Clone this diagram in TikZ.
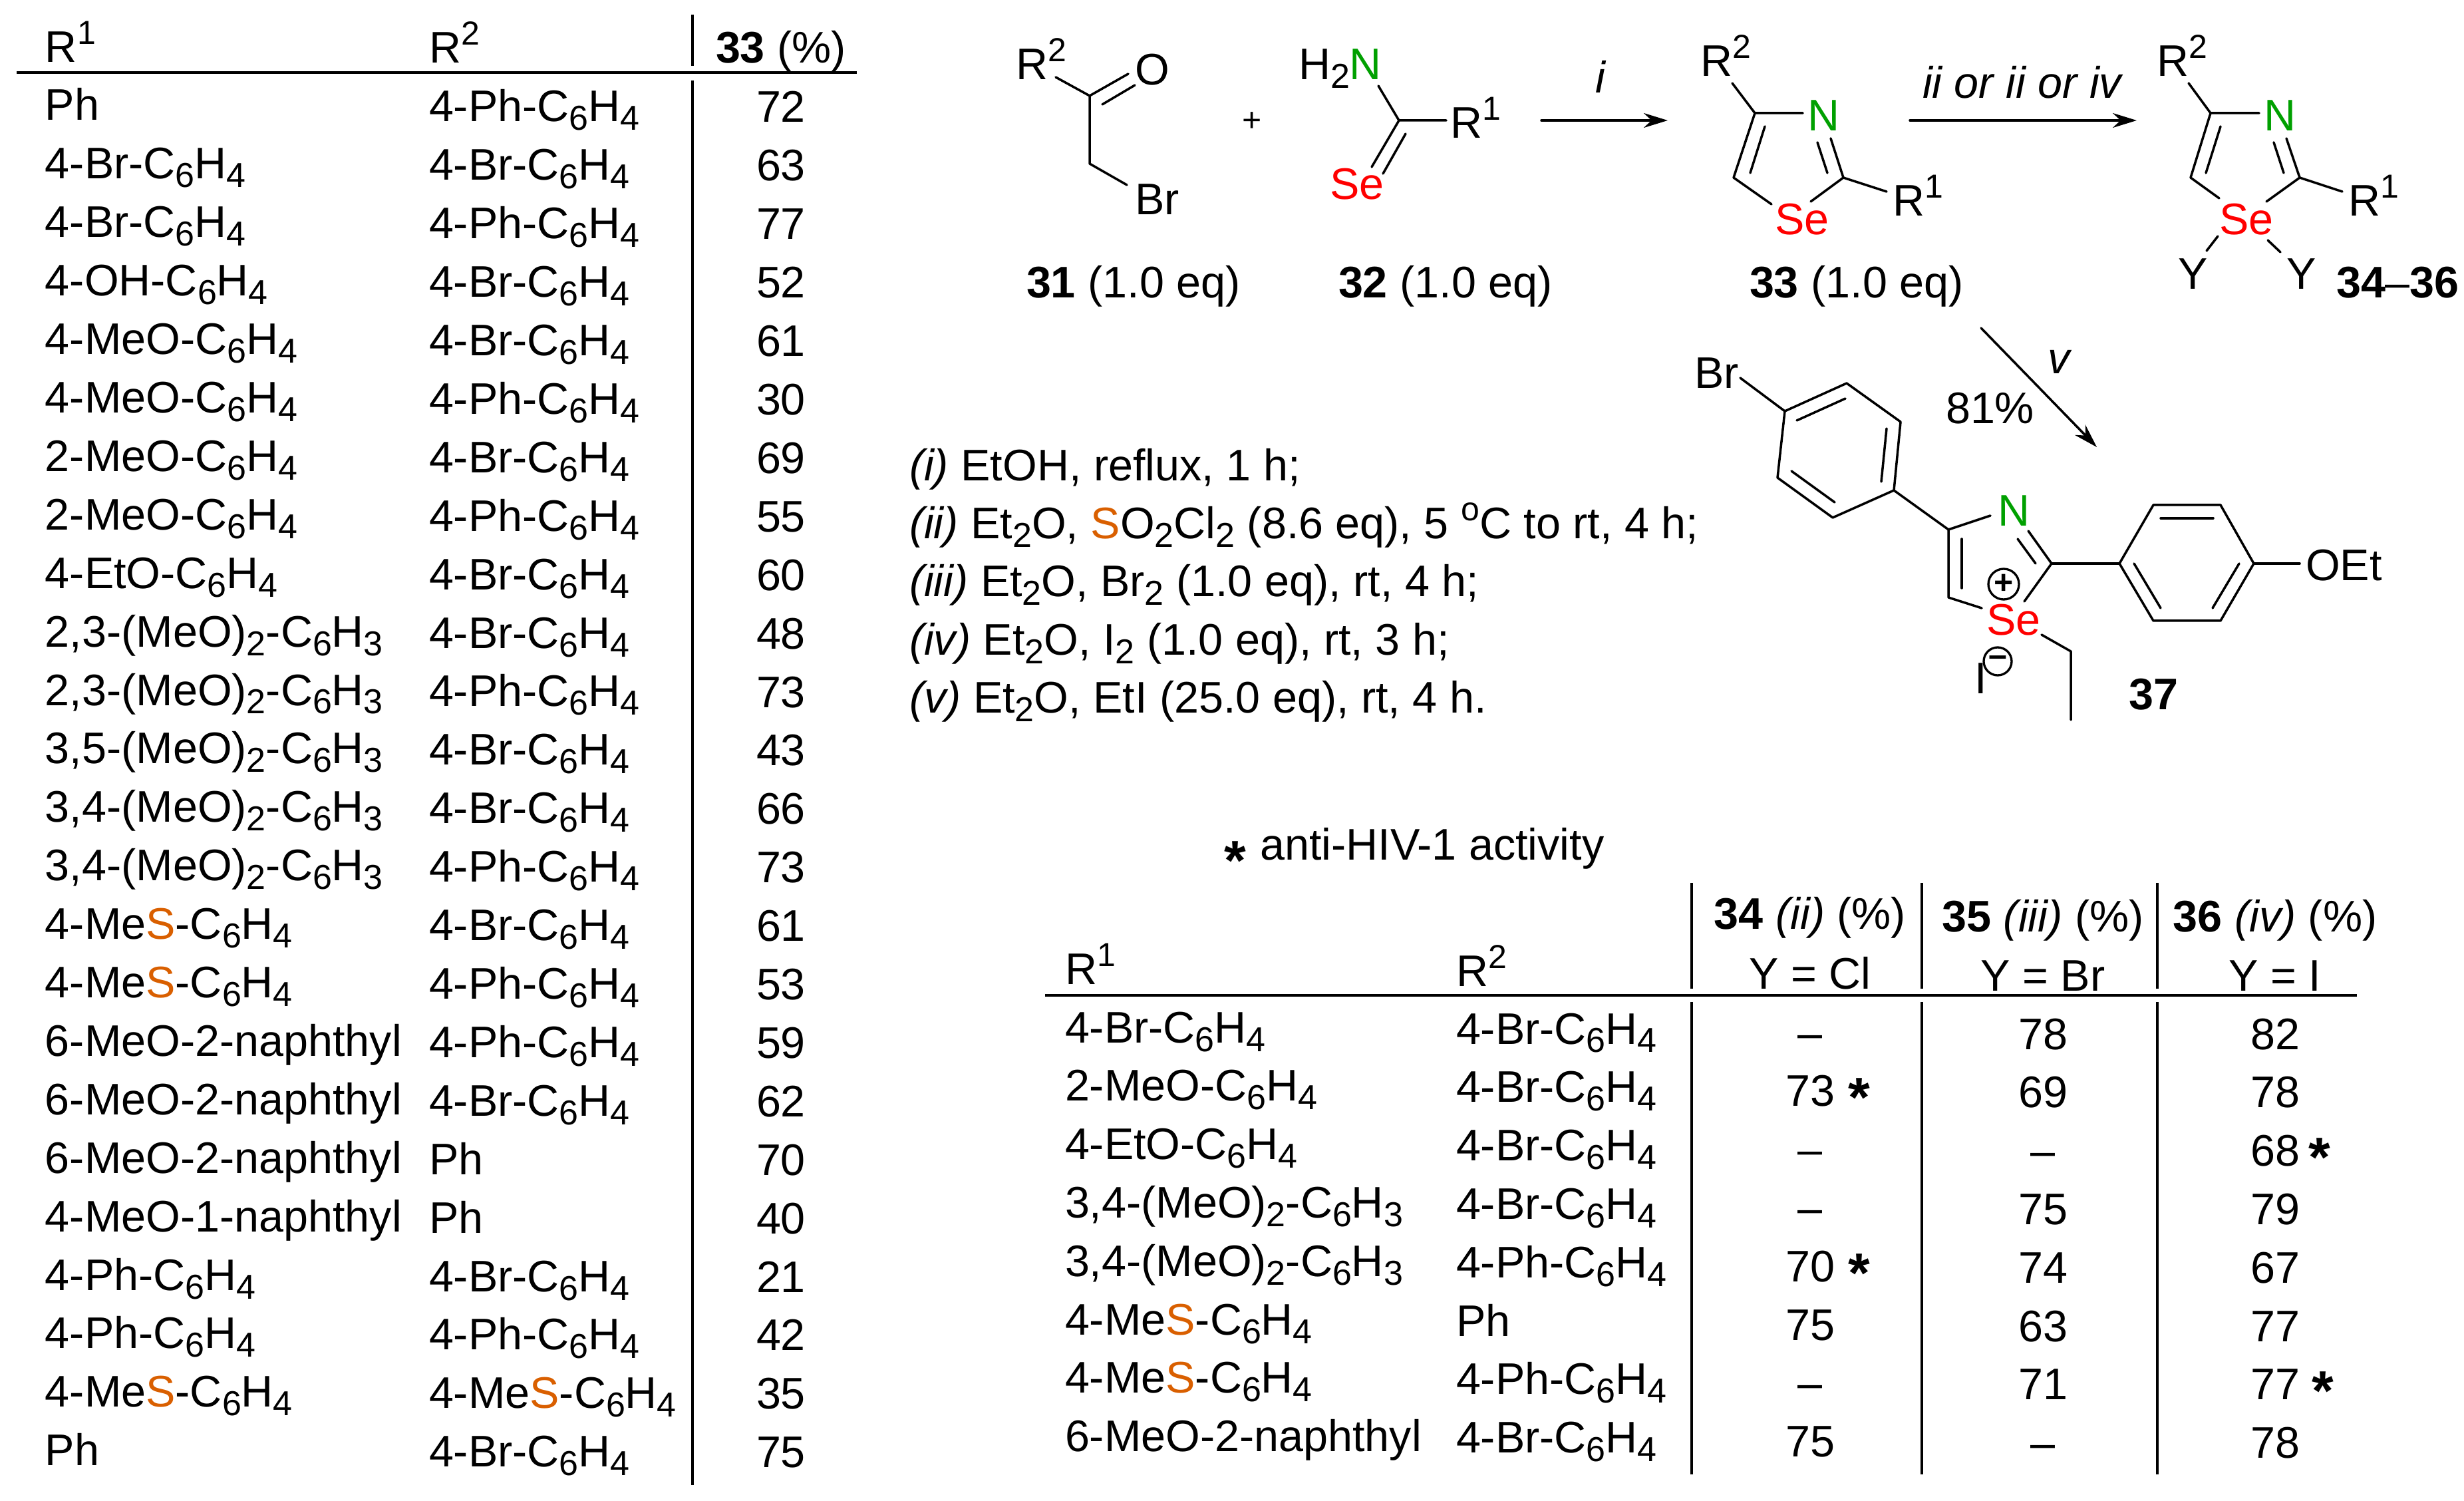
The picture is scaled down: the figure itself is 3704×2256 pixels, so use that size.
\documentclass[tikz,border=0pt]{standalone}
\usepackage{fontspec}
\usepackage{tikz}
\usetikzlibrary{arrows.meta}
\setmainfont{Liberation Sans}
\definecolor{seRed}{RGB}{255,0,0}
\definecolor{nGreen}{RGB}{0,160,0}
\definecolor{sOrange}{RGB}{217,95,0}
\newcommand{\dn}[1]{\raisebox{-1.3pt}{\fontsize{5.2}{5}\selectfont #1}}
\newcommand{\up}[1]{\raisebox{2.7pt}{\fontsize{5}{5}\selectfont #1}}
\newcommand{\csix}{C\dn{6}H\dn{4}}
\newcommand{\cthree}{C\dn{6}H\dn{3}}
\newcommand{\ess}{\textcolor{sOrange}{S}}
\newcommand{\hit}{\raisebox{-1.6pt}{\fontsize{8.4}{8}\selectfont\textbf{*}}}
\tikzset{
  txt/.style={anchor=base west, inner sep=0pt, font=\fontsize{6.65}{7}\selectfont},
  num/.style={txt, anchor=base},
  bond/.style={line width=0.35pt, line cap=round, line join=round},
  rule/.style={line width=0.33pt},
  seAtom/.style={txt, text=seRed},
  nAtom/.style={txt, text=nGreen},
  ion/.style={draw, circle, line width=0.33pt, inner sep=0pt, font=\fontsize{5}{5}\selectfont}
}
\begin{document}
\begin{tikzpicture}[x=0.1pt, y=-0.1pt, >={Stealth[length=3.6pt, width=2.2pt]}]
  \useasboundingbox (0,0) rectangle (3704,2256);

  % Left table
  \node [txt] (lhr1) at (66,94) {R\up{1}};
  \node [txt] (lhr2) at (643,95) {R\up{2}};
  \node [txt] (lhy) at (1074,95) {\textbf{33} (\%)};
  \coordinate (ll1) at (25,109);
  \coordinate (ll2) at (1288,109);
  \coordinate (lv1) at (1041,22);
  \coordinate (lv2) at (1041,99);
  \coordinate (lv3) at (1041,121);
  \coordinate (lv4) at (1041,2232);
  \draw [rule] (ll1) -- (ll2);
  \draw [rule] (lv1) -- (lv2);
  \draw [rule] (lv3) -- (lv4);
  \foreach \a/\b/\c [count=\i from 0] in {
      Ph/4-Ph-\csix/72,
      4-Br-\csix/4-Br-\csix/63,
      4-Br-\csix/4-Ph-\csix/77,
      4-OH-\csix/4-Br-\csix/52,
      4-MeO-\csix/4-Br-\csix/61,
      4-MeO-\csix/4-Ph-\csix/30,
      2-MeO-\csix/4-Br-\csix/69,
      2-MeO-\csix/4-Ph-\csix/55,
      4-EtO-\csix/4-Br-\csix/60,
      2{,}3-(MeO)\dn{2}-\cthree/4-Br-\csix/48,
      2{,}3-(MeO)\dn{2}-\cthree/4-Ph-\csix/73,
      3{,}5-(MeO)\dn{2}-\cthree/4-Br-\csix/43,
      3{,}4-(MeO)\dn{2}-\cthree/4-Br-\csix/66,
      3{,}4-(MeO)\dn{2}-\cthree/4-Ph-\csix/73,
      4-Me\ess-\csix/4-Br-\csix/61,
      4-Me\ess-\csix/4-Ph-\csix/53,
      6-MeO-2-naphthyl/4-Ph-\csix/59,
      6-MeO-2-naphthyl/4-Br-\csix/62,
      6-MeO-2-naphthyl/Ph/70,
      4-MeO-1-naphthyl/Ph/40,
      4-Ph-\csix/4-Br-\csix/21,
      4-Ph-\csix/4-Ph-\csix/42,
      4-Me\ess-\csix/4-Me\ess-\csix/35,
      Ph/4-Br-\csix/75} {
    \node [txt] (la\i) at (66,{181+87.9*\i}) {\a};
    \node [txt] (lb\i) at (643,{183+87.9*\i}) {\b};
    \node [num] (lc\i) at (1174,{184+87.9*\i}) {\c};
  }

  % Right table
  \node [txt] (rtitle) at (1838,1293) {\raisebox{-1.4pt}{\hit}\hspace{0.3pt} anti-HIV-1 activity};
  \node [txt] (rhr1) at (1599,1479) {R\up{1}};
  \node [txt] (rhr2) at (2187,1482) {R\up{2}};
  \node [num] (rh34) at (2721,1397) {\textbf{34} \textit{(ii)} (\%)};
  \node [num] (rh35) at (3071,1400) {\textbf{35} \textit{(iii)} (\%)};
  \node [num] (rh36) at (3420,1400) {\textbf{36} \textit{(iv)} (\%)};
  \node [num] (ry34) at (2721,1487) {Y = Cl};
  \node [num] (ry35) at (3071,1489) {Y = Br};
  \node [num] (ry36) at (3420,1489) {Y = I};
  \coordinate (rl1) at (1571,1496);
  \coordinate (rl2) at (3543,1496);
  \draw [rule] (rl1) -- (rl2);
  \foreach \n/\x in {a/2543, b/2889, c/3243} {
    \coordinate (rv\n1) at (\x,1327);
    \coordinate (rv\n2) at (\x,1486);
    \coordinate (rv\n3) at (\x,1506);
    \coordinate (rv\n4) at (\x,2216);
    \draw [rule] (rv\n1) -- (rv\n2);
    \draw [rule] (rv\n3) -- (rv\n4);
  }
  \foreach \a/\b/\c/\d/\e [count=\i from 0] in {
      4-Br-\csix/4-Br-\csix/--/78/82,
      2-MeO-\csix/4-Br-\csix/73\rlap{\hspace{2pt}\hit}/69/78,
      4-EtO-\csix/4-Br-\csix/--/--/68\rlap{\hspace{1.3pt}\hit},
      3{,}4-(MeO)\dn{2}-\cthree/4-Br-\csix/--/75/79,
      3{,}4-(MeO)\dn{2}-\cthree/4-Ph-\csix/70\rlap{\hspace{2pt}\hit}/74/67,
      4-Me\ess-\csix/Ph/75/63/77,
      4-Me\ess-\csix/4-Ph-\csix/--/71/77\rlap{\hspace{1.8pt}\hit},
      6-MeO-2-naphthyl/4-Br-\csix/75/--/78} {
    \node [txt] (ra\i) at (1599,{1567+87.8*\i}) {\a};
    \node [txt] (rb\i) at (2187,{1569+87.8*\i}) {\b};
    \node [num] (rc\i) at (2721,{1575+87.8*\i}) {\c};
    \node [num] (rd\i) at (3071,{1577+87.8*\i}) {\d};
    \node [num] (re\i) at (3420,{1577+87.8*\i}) {\e};
  }

  % Conditions
  \node [txt] (cond1) at (1365,723) {\textit{(i)} EtOH, reflux, 1 h;};
  \node [txt] (cond2) at (1365,810) {\textit{(ii)} Et\dn{2}O, \ess O\dn{2}Cl\dn{2} (8.6 eq), 5 \up{o}C to rt, 4 h;};
  \node [txt] (cond3) at (1365,897) {\textit{(iii)} Et\dn{2}O, Br\dn{2} (1.0 eq), rt, 4 h;};
  \node [txt] (cond4) at (1365,985) {\textit{(iv)} Et\dn{2}O, I\dn{2} (1.0 eq), rt, 3 h;};
  \node [txt] (cond5) at (1365,1072) {\textit{(v)} Et\dn{2}O, EtI (25.0 eq), rt, 4 h.};

  % 31
  \node [txt] (r31) at (1525,120) {R\up{2}};
  \node [txt] (o31) at (1704,128) {O};
  \node [txt] (br31) at (1704,323) {Br};
  \node [txt] (lab31) at (1541,448) {\textbf{31} (1.0 eq)};
  \node [txt, font=\fontsize{5}{5}\selectfont] (plus) at (1865,198) {+};
  \foreach \n/\x/\y in {a1/1638/144, a2/1587/116, a3/1696/111, a4/1657/157, a5/1706/128, a6/1638/246, a7/1694/278}
    \coordinate (\n) at (\x,\y);
  \draw [bond] (a2) -- (a1) -- (a3);
  \draw [bond] (a4) -- (a5);
  \draw [bond] (a1) -- (a6) -- (a7);

  % 32
  \node [txt] (hn32) at (1950,120) {H\dn{2}\textcolor{nGreen}{N}};
  \node [txt] (r32) at (2178,208) {R\up{1}};
  \node [seAtom] (se32) at (1997,300) {Se};
  \node [txt] (lab32) at (2010,448) {\textbf{32} (1.0 eq)};
  \foreach \n/\x/\y in {b1/2103/181, b2/2072/129, b3/2174/181, b4/2062/251, b5/2113/201, b6/2079/261}
    \coordinate (\n) at (\x,\y);
  \draw [bond] (b2) -- (b1) -- (b3);
  \draw [bond] (b1) -- (b4);
  \draw [bond] (b5) -- (b6);

  % 33
  \node [txt] (r33a) at (2554,115) {R\up{2}};
  \node [nAtom] (n33) at (2715,197) {N};
  \node [txt] (r33b) at (2843,325) {R\up{1}};
  \node [seAtom] (se33) at (2666,353) {Se};
  \node [txt] (lab33) at (2628,448) {\textbf{33} (1.0 eq)};
  \foreach \n/\x/\y in {c1/2638/170, c2/2604/125, c3/2710/170, c4/2752/208, c5/2771/267, c6/2732/214, c7/2747/260,
                        c8/2836/288, c9/2722/303, c10/2606/267, c11/2653/190, c12/2631/260, c13/2663/307}
    \coordinate (\n) at (\x,\y);
  \draw [bond] (c2) -- (c1) -- (c3);
  \draw [bond] (c4) -- (c5) -- (c9);
  \draw [bond] (c6) -- (c7);
  \draw [bond] (c5) -- (c8);
  \draw [bond] (c1) -- (c10) -- (c13);
  \draw [bond] (c11) -- (c12);

  % 34-36
  \node [txt] (r34a) at (3240,115) {R\up{2}};
  \node [nAtom] (n34) at (3401,197) {N};
  \node [txt] (r34b) at (3528,325) {R\up{1}};
  \node [seAtom] (se34) at (3334,353) {Se};
  \node [txt] (y34a) at (3272,435) {Y};
  \node [txt] (y34b) at (3435,435) {Y};
  \node [txt] (lab34) at (3510,448) {\textbf{34}--\textbf{36}};
  \foreach \n/\x/\y in {d1/3323/170, d2/3290/125, d3/3396/170, d4/3437/208, d5/3457/267, d6/3418/214, d7/3433/260,
                        d8/3521/288, d9/3407/303, d10/3293/267, d11/3338/190, d12/3316/260, d13/3336/298,
                        d14/3334/355, d15/3317/377, d16/3409/361, d17/3428/379}
    \coordinate (\n) at (\x,\y);
  \draw [bond] (d2) -- (d1) -- (d3);
  \draw [bond] (d4) -- (d5) -- (d9);
  \draw [bond] (d6) -- (d7);
  \draw [bond] (d5) -- (d8);
  \draw [bond] (d1) -- (d10) -- (d13);
  \draw [bond] (d11) -- (d12);
  \draw [bond] (d14) -- (d15);
  \draw [bond] (d16) -- (d17);

  % 37
  \node [txt] (br37) at (2545,584) {Br};
  \node [nAtom] (n37) at (3001,791) {N};
  \node [seAtom] (se37) at (2984,955) {Se};
  \node [txt] (oet37) at (3464,873) {OEt};
  \node [txt] (i37) at (2966,1043) {I};
  \node [txt] (lab37) at (3198,1066) {\textbf{37}};
  \node [ion, minimum size=4.6pt] (pos37) at (3012,878) {\textbf{+}};
  \node [ion, minimum size=4.2pt] (neg37) at (3003,994) {\textbf{--}};
  \foreach \n/\x/\y in {e1/2616/568, e2/2683/618, e3/2776/576, e4/2857/634, e5/2847/737, e6/2755/778, e7/2672/718,
                        e8/2701/632, e9/2774/599, e10/2836/644, e11/2828/724, e12/2693/708, e13/2758/755,
                        f1/2929/796, f2/2992/775, f3/3049/798, f4/3084/847, f5/3033/810, f6/3060/847,
                        f7/3043/904, f8/2929/898, f9/2949/810, f10/2949/884, f11/2979/914,
                        f12/3069/954, f13/3113/979, f14/3113/1082,
                        g1/3186/847, g2/3237/759, g3/3338/759, g4/3388/847, g5/3338/933, g6/3237/933,
                        g7/3248/779, g8/3327/779, g9/3366/847, g10/3326/914, g11/3208/847, g12/3248/914, g13/3457/847}
    \coordinate (\n) at (\x,\y);
  \draw [bond] (e1) -- (e2);
  \draw [bond] (e2) -- (e3) -- (e4) -- (e5) -- (e6) -- (e7) -- cycle;
  \draw [bond] (e8) -- (e9);
  \draw [bond] (e10) -- (e11);
  \draw [bond] (e12) -- (e13);
  \draw [bond] (e5) -- (f1) -- (f2);
  \draw [bond] (f3) -- (f4) -- (f7);
  \draw [bond] (f5) -- (f6);
  \draw [bond] (f1) -- (f8) -- (f11);
  \draw [bond] (f9) -- (f10);
  \draw [bond] (f12) -- (f13) -- (f14);
  \draw [bond] (f4) -- (g1);
  \draw [bond] (g1) -- (g2) -- (g3) -- (g4) -- (g5) -- (g6) -- cycle;
  \draw [bond] (g7) -- (g8);
  \draw [bond] (g9) -- (g10);
  \draw [bond] (g11) -- (g12);
  \draw [bond] (g4) -- (g13);

  % Arrows
  \node [txt] (lbli) at (2396,140) {\textit{i}};
  \node [txt] (lblii) at (2888,148) {\textit{ii or ii or iv}};
  \node [txt] (lblv) at (3076,562) {\textit{v}};
  \node [txt] (lbly) at (2923,637) {81\%};
  \coordinate (i1) at (2317,181);
  \coordinate (i2) at (2507,181);
  \coordinate (ii1) at (2871,181);
  \coordinate (ii2) at (3212,181);
  \coordinate (v1) at (2978,493);
  \coordinate (v2) at (3152,672);
  \draw [->, bond] (i1) -- (i2);
  \draw [->, bond] (ii1) -- (ii2);
  \draw [->, bond] (v1) -- (v2);
\end{tikzpicture}
\end{document}
